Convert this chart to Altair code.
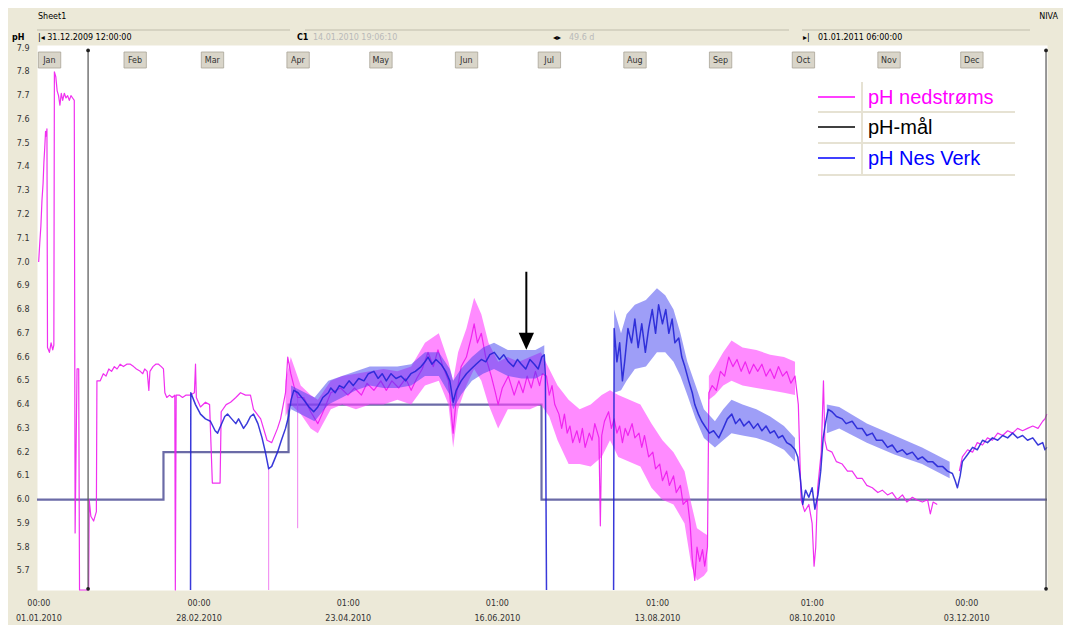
import altair as alt
import pandas as pd

# ------------------------------------------------------------------ data
X_START = "2009-12-31 12:00"
X_END = "2011-01-01 06:00"
DAY0 = "2010-01-01 00:00"

Y_TICKS = [5.7, 5.8, 5.9, 6.0, 6.1, 6.2, 6.3, 6.4, 6.5, 6.6, 6.7, 6.8,
           6.9, 7.0, 7.1, 7.2, 7.3, 7.4, 7.5, 7.6, 7.7, 7.8, 7.9]
X_TICKS = ["2010-01-01 00:00", "2010-02-28 00:00", "2010-04-23 01:00",
           "2010-06-16 01:00", "2010-08-13 01:00", "2010-10-08 01:00",
           "2010-12-03 00:00"]
MONTHS = ["Jan", "Feb", "Mar", "Apr", "May", "Jun",
          "Jul", "Aug", "Sep", "Oct", "Nov", "Dec"]
LEGEND_NAMES = ["pH nedstrøms", "pH-mål", "pH Nes Verk"]
LEGEND_COLORS = ["#ff00ff", "#000000", "#0000ff"]

# pH-mål (step line): day since 01.01.2010, pH
MAAL_DAYS = [-0.5, 45.3, 90.6, 182.2, 365.25]
MAAL_PH = [6.0, 6.2, 6.4, 6.0, 6.0]

# pH nedstrøms (day, pH)
NED_1 = [(0.1, 7.00), (0.5, 7.08), (0.9, 7.15), (1.3, 7.26), (1.7, 7.33), (2.0, 7.42),
         (2.3, 7.48), (2.6, 7.55), (2.9, 7.53), (3.1, 7.56), (3.3, 6.64), (4.0, 6.62),
         (4.6, 6.66), (5.2, 6.63), (5.6, 6.65), (5.8, 7.80), (6.3, 7.78), (6.8, 7.72),
         (7.3, 7.70), (7.8, 7.66), (8.3, 7.71), (8.8, 7.68), (9.4, 7.71), (10.0, 7.69),
         (10.6, 7.70), (11.2, 7.68), (11.8, 7.70), (12.4, 7.69), (13.0, 7.68),
         (13.3, 5.86), (14.0, 6.55), (14.6, 6.55), (14.9, 5.62), (18.2, 5.62),
         (18.4, 6.00), (19.0, 5.93), (20.0, 5.91), (21.0, 5.95), (21.2, 6.50),
         (22.4, 6.50), (23.5, 6.53), (24.5, 6.52), (25.5, 6.55), (26.5, 6.54), (27.5, 6.56),
         (28.5, 6.55), (29.6, 6.57), (30.8, 6.56), (32.0, 6.57), (33.3, 6.57), (34.5, 6.56),
         (35.5, 6.55), (36.9, 6.54), (37.8, 6.53), (38.5, 6.55), (39.4, 6.54), (40.0, 6.46),
         (40.4, 6.54), (41.5, 6.56), (42.5, 6.57), (43.5, 6.57), (44.5, 6.56), (45.3, 6.55),
         (45.8, 6.45), (46.5, 6.43), (47.5, 6.44), (48.5, 6.43), (49.4, 6.44), (49.6, 5.62),
         (49.9, 6.44), (51.0, 6.44), (52.2, 6.43), (53.5, 6.44), (55.0, 6.44), (56.5, 6.45),
         (56.9, 6.57), (57.2, 6.43), (58.7, 6.39), (60.5, 6.41), (62.0, 6.40), (63.0, 6.07),
         (64.9, 6.07), (65.8, 6.07), (66.2, 6.37), (68.0, 6.40), (69.6, 6.41), (71.5, 6.43),
         (73.2, 6.45), (75.0, 6.44), (76.8, 6.44), (77.9, 6.38), (80.5, 6.34), (82.8, 6.25),
         (84.5, 6.24), (86.6, 6.30), (87.7, 6.34), (89.5, 6.45), (90.3, 6.60), (91.4, 6.53),
         (92.5, 6.48), (93.9, 6.43), (96.1, 6.43), (98.6, 6.37), (101.2, 6.32), (103.5, 6.38),
         (105.9, 6.45), (109.5, 6.47), (112.1, 6.44), (114.5, 6.47), (117.0, 6.44),
         (119.0, 6.49), (121.5, 6.46), (124.0, 6.50), (126.0, 6.46), (128.0, 6.50),
         (130.5, 6.47), (133.0, 6.51), (135.0, 6.46), (137.0, 6.51), (139.0, 6.55),
         (141.1, 6.62), (143.0, 6.56), (144.7, 6.63), (146.5, 6.56), (148.5, 6.50),
         (150.2, 6.28), (151.5, 6.45), (153.1, 6.56), (155.0, 6.60), (156.7, 6.68),
         (157.8, 6.74), (159.0, 6.66), (160.4, 6.70), (162.0, 6.60), (164.0, 6.52),
         (165.5, 6.45), (166.5, 6.40), (168.0, 6.47), (170.2, 6.52), (172.3, 6.44),
         (174.0, 6.50), (175.5, 6.45), (177.0, 6.52), (178.5, 6.47), (180.0, 6.54),
         (181.5, 6.48), (182.5, 6.53), (184.0, 6.52), (185.0, 6.44), (186.0, 6.48),
         (187.0, 6.40), (188.5, 6.36), (189.5, 6.30), (190.5, 6.36), (191.5, 6.28),
         (192.5, 6.31), (193.5, 6.24), (195.0, 6.29), (196.0, 6.24), (197.0, 6.30),
         (198.0, 6.22), (199.5, 6.28), (200.5, 6.25), (201.5, 6.32), (203.0, 6.26),
         (203.5, 5.89), (204.0, 6.27), (205.0, 6.33), (206.5, 6.37), (207.5, 6.30),
         (208.5, 6.34), (209.5, 6.28), (210.5, 6.31), (211.5, 6.24), (212.5, 6.30),
         (213.5, 6.27), (215.0, 6.32), (216.0, 6.26), (217.5, 6.28), (218.5, 6.22),
         (219.5, 6.27), (221.0, 6.18), (222.5, 6.20), (223.5, 6.13), (225.0, 6.15),
         (226.0, 6.08), (227.5, 6.12), (228.5, 6.06), (230.0, 6.10), (231.0, 6.03),
         (232.5, 6.06), (233.5, 5.98), (235.0, 6.00), (236.0, 5.90), (236.8, 5.75),
         (237.7, 5.66), (238.5, 5.80), (239.5, 5.74), (240.5, 5.79), (241.3, 5.72),
         (242.3, 5.80), (242.8, 6.45), (244.0, 6.48), (245.5, 6.46), (247.0, 6.54),
         (248.5, 6.52), (250.0, 6.60), (251.5, 6.56), (253.0, 6.59), (254.5, 6.54),
         (256.0, 6.58), (257.5, 6.53), (259.0, 6.57), (260.5, 6.54), (262.0, 6.57),
         (263.5, 6.52), (265.0, 6.55), (266.5, 6.51), (268.0, 6.56), (269.5, 6.52),
         (271.0, 6.54), (272.5, 6.49), (274.0, 6.52), (275.2, 6.40),
         (276.2, 6.00), (277.5, 5.95), (279.0, 5.98), (280.2, 5.90), (280.9, 5.72),
         (281.5, 5.80), (282.2, 6.05), (283.5, 6.20), (284.3, 6.50), (284.8, 6.25),
         (285.6, 6.21), (287.4, 6.20), (289.0, 6.16), (291.1, 6.15), (293.0, 6.12),
         (294.7, 6.12), (296.5, 6.09), (298.3, 6.09), (300.0, 6.06), (302.0, 6.05),
         (304.0, 6.03), (305.6, 6.04), (307.5, 6.02), (309.2, 6.03), (311.0, 6.00),
         (312.9, 6.02), (314.5, 5.99), (316.5, 6.01), (318.0, 6.00), (320.1, 5.99),
         (322.0, 6.00), (323.0, 5.94), (324.0, 5.99), (325.5, 5.98)]
NED_2 = [(333.5, 6.12), (334.6, 6.18), (336.5, 6.21), (338.3, 6.20), (340.0, 6.24),
         (341.9, 6.23), (343.7, 6.26), (345.5, 6.25), (347.4, 6.28), (349.2, 6.27),
         (351.0, 6.29), (352.8, 6.28), (354.6, 6.30), (356.4, 6.29), (358.2, 6.30),
         (360.1, 6.31), (362.0, 6.30), (363.7, 6.33), (364.5, 6.34), (365.2, 6.36)]
# noisy envelope of pH nedstrøms (day, low, high)
NED_BAND_1 = [(89.5, 6.35, 6.50), (91.4, 6.40, 6.60), (95.0, 6.36, 6.48), (98.6, 6.30, 6.44),
              (101.2, 6.28, 6.42), (105.9, 6.38, 6.50), (110.0, 6.40, 6.52), (115.0, 6.38, 6.53),
              (120.0, 6.40, 6.54), (125.0, 6.40, 6.55), (130.0, 6.42, 6.54), (135.0, 6.40, 6.56),
              (140.0, 6.48, 6.66), (145.0, 6.50, 6.70), (148.5, 6.40, 6.58), (150.2, 6.22, 6.50),
              (152.0, 6.38, 6.62), (155.0, 6.48, 6.72), (157.8, 6.55, 6.85), (160.4, 6.50, 6.78),
              (163.0, 6.40, 6.66), (166.5, 6.30, 6.58), (170.0, 6.38, 6.60), (174.0, 6.38, 6.58),
              (178.0, 6.38, 6.60), (182.0, 6.40, 6.62), (185.0, 6.35, 6.55), (188.0, 6.25, 6.48),
              (192.0, 6.15, 6.42), (196.0, 6.15, 6.38), (200.0, 6.14, 6.40), (204.0, 6.18, 6.44),
              (207.0, 6.25, 6.46), (210.0, 6.18, 6.44), (214.0, 6.16, 6.42), (218.0, 6.14, 6.40),
              (222.0, 6.05, 6.32), (226.0, 6.00, 6.25), (230.0, 5.98, 6.20), (234.0, 5.90, 6.12),
              (236.5, 5.72, 5.98), (238.5, 5.66, 5.88), (241.0, 5.68, 5.86), (242.3, 5.70, 5.85)]
NED_BAND_2 = [(242.8, 6.42, 6.52), (245.0, 6.44, 6.56), (248.0, 6.48, 6.62), (251.0, 6.50, 6.67),
              (255.0, 6.48, 6.64), (260.0, 6.47, 6.63), (265.0, 6.46, 6.61), (270.0, 6.45, 6.60),
              (274.0, 6.44, 6.58)]

# pH Nes Verk (day, pH)
NES_1 = [(55.1, 5.62), (55.2, 6.45), (56.9, 6.40), (58.7, 6.36), (60.5, 6.34), (62.3, 6.33),
         (64.0, 6.29), (64.9, 6.28), (66.0, 6.31), (67.5, 6.35), (68.5, 6.36), (70.0, 6.34),
         (71.5, 6.32), (72.5, 6.34), (74.3, 6.30), (75.5, 6.32), (76.8, 6.35), (77.9, 6.36),
         (79.5, 6.32), (81.0, 6.26), (82.2, 6.20), (83.4, 6.13), (84.5, 6.14), (85.9, 6.18),
         (86.6, 6.20), (88.0, 6.25), (89.5, 6.30), (90.6, 6.35), (91.5, 6.42), (92.5, 6.46),
         (94.0, 6.45), (96.1, 6.42), (98.0, 6.39), (99.7, 6.37), (101.2, 6.39), (103.0, 6.43),
         (105.0, 6.45), (105.9, 6.47), (107.5, 6.45), (109.0, 6.48), (110.6, 6.47), (112.5, 6.50),
         (114.0, 6.48), (116.0, 6.51), (117.9, 6.50), (119.5, 6.53), (121.5, 6.54), (123.0, 6.51),
         (124.5, 6.53), (126.0, 6.50), (127.7, 6.53), (129.5, 6.51), (131.3, 6.52), (133.0, 6.50),
         (134.9, 6.53), (136.5, 6.54), (138.6, 6.56), (140.0, 6.58), (141.1, 6.60), (142.5, 6.57),
         (144.0, 6.59), (145.8, 6.57), (147.5, 6.54), (149.0, 6.50), (150.2, 6.41), (151.3, 6.46),
         (153.1, 6.50), (155.0, 6.53), (156.7, 6.55), (158.5, 6.57), (160.4, 6.59), (162.0, 6.58),
         (163.5, 6.61), (165.1, 6.62), (167.0, 6.59), (168.5, 6.61), (170.2, 6.58), (172.0, 6.56),
         (173.5, 6.59), (174.9, 6.57), (176.5, 6.55), (178.0, 6.59), (179.6, 6.57), (181.0, 6.55),
         (182.3, 6.60), (183.2, 6.61), (183.6, 6.52), (184.0, 5.62)]
NES_2 = [(208.3, 5.62), (208.5, 6.72), (209.5, 6.58), (210.5, 6.66), (211.5, 6.50), (212.3, 6.58),
         (213.5, 6.72), (214.8, 6.66), (216.0, 6.76), (217.2, 6.64), (218.5, 6.74), (219.8, 6.62),
         (221.0, 6.72), (222.3, 6.80), (223.5, 6.70), (224.6, 6.82), (226.0, 6.74), (227.2, 6.80),
         (228.3, 6.70), (229.5, 6.76), (230.5, 6.66), (231.9, 6.68), (233.0, 6.60), (234.1, 6.56),
         (235.5, 6.50), (236.8, 6.45), (237.7, 6.40), (239.0, 6.36), (240.2, 6.33), (241.3, 6.31),
         (243.0, 6.28), (244.5, 6.29), (246.4, 6.26), (248.0, 6.30), (249.5, 6.34), (251.1, 6.36),
         (252.5, 6.32), (254.0, 6.34), (255.5, 6.31), (257.3, 6.33), (259.0, 6.30), (260.5, 6.32),
         (262.0, 6.29), (263.5, 6.31), (265.0, 6.28), (266.5, 6.29), (268.0, 6.26), (269.5, 6.27),
         (271.0, 6.24), (272.5, 6.23), (274.0, 6.21), (275.0, 6.18), (276.0, 6.08), (276.8, 5.98),
         (277.8, 6.04), (279.0, 6.01), (280.2, 6.05), (281.2, 5.96), (282.3, 6.02), (283.3, 6.12),
         (284.2, 6.26), (285.0, 6.32), (286.0, 6.38), (287.4, 6.37), (289.0, 6.35), (291.1, 6.34),
         (292.5, 6.32), (294.7, 6.33), (296.5, 6.30), (298.3, 6.30), (300.0, 6.27), (302.0, 6.28),
         (303.5, 6.25), (305.6, 6.25), (307.5, 6.22), (309.2, 6.23), (311.0, 6.20), (312.9, 6.21),
         (314.5, 6.19), (316.5, 6.20), (318.5, 6.17), (320.1, 6.18), (322.0, 6.16), (323.8, 6.16),
         (325.6, 6.14), (327.4, 6.14), (329.2, 6.12), (331.0, 6.11), (332.0, 6.08), (332.8, 6.05),
         (333.8, 6.10), (334.6, 6.16), (336.5, 6.19), (338.3, 6.22), (340.0, 6.21), (341.9, 6.25),
         (343.7, 6.24), (345.5, 6.26), (347.4, 6.25), (349.2, 6.27), (351.0, 6.26), (352.8, 6.28),
         (354.6, 6.26), (356.4, 6.27), (358.2, 6.25), (360.1, 6.26), (362.0, 6.23), (363.7, 6.24),
         (364.5, 6.21), (365.2, 6.22)]
NES_BAND_1 = [(91.5, 6.38, 6.48), (100.0, 6.33, 6.43), (105.0, 6.40, 6.50), (110.0, 6.43, 6.52),
              (115.0, 6.46, 6.54), (120.0, 6.48, 6.56), (125.0, 6.47, 6.56), (130.0, 6.47, 6.56),
              (135.0, 6.48, 6.57), (140.0, 6.52, 6.62), (145.0, 6.52, 6.62), (149.0, 6.44, 6.55),
              (150.2, 6.38, 6.50), (153.0, 6.44, 6.55), (157.0, 6.50, 6.60), (161.0, 6.53, 6.64),
              (165.0, 6.55, 6.66), (170.0, 6.52, 6.63), (175.0, 6.51, 6.63), (180.0, 6.51, 6.63),
              (183.2, 6.53, 6.65)]
NES_BAND_2 = [(208.5, 6.45, 6.80), (211.0, 6.46, 6.70), (213.0, 6.50, 6.78), (216.0, 6.55, 6.82),
              (220.0, 6.56, 6.84), (224.0, 6.62, 6.89), (227.0, 6.62, 6.86), (230.0, 6.58, 6.80),
              (232.5, 6.52, 6.70), (235.0, 6.44, 6.58), (238.0, 6.34, 6.48), (241.0, 6.26, 6.38),
              (245.0, 6.22, 6.33), (248.0, 6.25, 6.38), (251.0, 6.28, 6.42), (255.0, 6.27, 6.40),
              (260.0, 6.26, 6.38), (265.0, 6.24, 6.35), (270.0, 6.21, 6.31), (274.0, 6.16, 6.26)]
NES_BAND_3 = [(285.5, 6.28, 6.40), (290.0, 6.30, 6.39), (300.0, 6.24, 6.32), (310.0, 6.19, 6.27),
              (320.0, 6.15, 6.22), (330.0, 6.09, 6.16)]

# thin isolated spikes of pH nedstrøms (day, low, high)
NED_SPIKES = [(93.9, 5.88, 6.45), (83.4, 5.62, 6.13)]

CURSOR_DAY = 18.0
END_DAY = 364.9
CURSOR_TOP, CURSOR_BOTTOM = 7.89, 5.625
ARROW_DAY, ARROW_TOP, ARROW_BOTTOM, ARROW_HEAD = 176.7, 6.959, 6.69, 6.667

# ------------------------------------------------------------------ helpers
DAY_MS = 86400000


def ms(ts):
    return int(pd.Timestamp(ts).value // 10**6)


BASE_MS = ms(DAY0)


def tday(d):
    return BASE_MS + d * DAY_MS


def line_frame(segments):
    rows = []
    for i, seg in enumerate(segments):
        for d, v in seg:
            rows.append({"t": tday(d), "ph": v, "seg": i})
    return pd.DataFrame(rows)


def band_frame(segments):
    rows = []
    for i, seg in enumerate(segments):
        for d, lo, hi in seg:
            rows.append({"t": tday(d), "lo": lo, "hi": hi, "seg": i})
    return pd.DataFrame(rows)


FONT = "DejaVu Sans"
XS = alt.Scale(type="utc", domain=[ms(X_START), ms(X_END)])
YS = alt.Scale(domain=[5.62, 7.913], nice=False, zero=False)
XA = alt.Axis(values=[ms(t) for t in X_TICKS],
              labelExpr="[utcFormat(datum.value, '%H:%M'), utcFormat(datum.value, '%d.%m.%Y')]",
              labelFontSize=8, labelFont=FONT, labelColor="#333333", labelLineHeight=15,
              labelPadding=9, ticks=False, domain=False, grid=False, labelOverlap=False,
              labelBound=False, labelFlush=False, title="")
YA = alt.Axis(values=Y_TICKS, format=".1f", labelFontSize=8, labelFont=FONT,
              labelColor="#333333", labelPadding=8, ticks=False, domain=False,
              grid=False, title="")


def X(field="t:T"):
    return alt.X(field, scale=XS, axis=XA)


def Y(field):
    return alt.Y(field, scale=YS, axis=YA)


ONE = pd.DataFrame({"k": [0]})


def txt(text, x, y, size=8, color="#000000", align="left", weight="normal", font=FONT):
    return alt.Chart(ONE).mark_text(text=text, align=align, baseline="middle",
                                     fontSize=size, color=color, fontWeight=weight,
                                     font=font).encode(x=alt.value(x), y=alt.value(y))


def hrule(x1, x2, y, color, w=1.0):
    return alt.Chart(ONE).mark_rule(color=color, strokeWidth=w).encode(
        x=alt.value(x1), x2=alt.value(x2), y=alt.value(y))


def vrule(x, y1, y2, color, w=1.0):
    return alt.Chart(ONE).mark_rule(color=color, strokeWidth=w).encode(
        x=alt.value(x), y=alt.value(y1), y2=alt.value(y2))


# ------------------------------------------------------------------ frames
maal_df = pd.DataFrame({"t": [tday(d) for d in MAAL_DAYS], "ph": MAAL_PH})
ned_df = line_frame([NED_1, NED_2])
nes_df = line_frame([NES_1, NES_2])
ned_band = band_frame([NED_BAND_1, NED_BAND_2])
nes_band = band_frame([NES_BAND_1, NES_BAND_2, NES_BAND_3])
spike_df = band_frame([NED_SPIKES])
month_df = pd.DataFrame({"m": MONTHS,
                         "t": [ms(pd.Timestamp(2010, i + 1, 1)) for i in range(12)]})
cursor_df = pd.DataFrame({"t": [tday(CURSOR_DAY), tday(END_DAY)],
                          "top": [CURSOR_TOP, CURSOR_TOP], "bot": [CURSOR_BOTTOM, CURSOR_BOTTOM]})
arrow_df = pd.DataFrame({"t": [tday(ARROW_DAY)], "top": [ARROW_TOP],
                         "bot": [ARROW_BOTTOM], "head": [ARROW_HEAD]})

MAG = "#ee1aee"
MAG_BAND = "#ff44ff"
BLU = "#2424d6"
BLU_BAND = "#3d3df0"
MAAL = "#5b5b9d"

layers = []

# month boxes
layers.append(alt.Chart(month_df).transform_calculate(t2="datum.t + 8.1 * 86400000")
              .mark_rect(fill="#d9d5c9", stroke="#a9a598", strokeWidth=0.8)
              .encode(x=X(), x2="t2:T", y=alt.value(7), y2=alt.value(23)))
layers.append(alt.Chart(month_df).mark_text(align="center", baseline="middle", dx=11,
                                            fontSize=8, font=FONT, color="#333333")
              .encode(x=X(), y=alt.value(15.5), text="m:N"))

# target line
layers.append(alt.Chart(maal_df).mark_line(interpolate="step-after", color=MAAL,
                                           strokeWidth=2.2, opacity=0.9)
              .encode(x=X(), y=Y("ph:Q")))

# pH nedstrøms
layers.append(alt.Chart(spike_df).mark_rule(color="#f080f0", strokeWidth=1)
              .encode(x=X(), y=Y("lo:Q"), y2="hi:Q"))
layers.append(alt.Chart(ned_band).mark_area(color=MAG_BAND, opacity=0.62)
              .encode(x=X(), y=Y("lo:Q"), y2="hi:Q", detail="seg:N"))
layers.append(alt.Chart(ned_df).mark_line(color=MAG, strokeWidth=1.2, strokeJoin="round",
                                          opacity=0.9)
              .encode(x=X(), y=Y("ph:Q"), detail="seg:N"))

# pH Nes Verk
layers.append(alt.Chart(nes_band).mark_area(color=BLU_BAND, opacity=0.5)
              .encode(x=X(), y=Y("lo:Q"), y2="hi:Q", detail="seg:N"))
layers.append(alt.Chart(nes_df).mark_line(color=BLU, strokeWidth=1.5, strokeJoin="round",
                                          opacity=0.9)
              .encode(x=X(), y=Y("ph:Q"), detail="seg:N"))

# cursor lines with end dots
layers.append(alt.Chart(cursor_df).mark_rule(color="#606060", strokeWidth=1.3)
              .encode(x=X(), y=Y("top:Q"), y2="bot:Q"))
layers.append(alt.Chart(cursor_df).mark_point(filled=True, color="#202020", size=14, opacity=1)
              .encode(x=X(), y=Y("top:Q")))
layers.append(alt.Chart(cursor_df).mark_point(filled=True, color="#202020", size=14, opacity=1)
              .encode(x=X(), y=Y("bot:Q")))

# arrow annotation
layers.append(alt.Chart(arrow_df).mark_rule(color="#000000", strokeWidth=2)
              .encode(x=X(), y=Y("top:Q"), y2="bot:Q"))
layers.append(alt.Chart(arrow_df).mark_point(shape="M -0.9 -1 L 0.9 -1 L 0 1 Z", filled=True,
                                             color="#000000", size=289, opacity=1)
              .encode(x=X(), y=Y("head:Q")))

# header
layers.append(txt("Sheet1", 1, -28))
layers.append(txt("NIVA", 1021, -28, align="right"))
layers.append(hrule(0, 253, -15, "#cfcbbb", 1.5))
layers.append(hrule(268, 752, -15, "#cfcbbb", 1.5))
layers.append(hrule(765, 993, -15, "#cfcbbb", 1.5))
layers.append(txt("pH", -25, -7, weight="bold"))
layers.append(txt("|◂  31.12.2009 12:00:00", 1, -7))
layers.append(txt("C1", 260, -7, weight="bold"))
layers.append(txt("14.01.2010 19:06:10", 276, -7, color="#b9b9b9"))
layers.append(txt("◂▸", 516, -7))
layers.append(txt("49.6 d", 532, -7, color="#b9b9b9"))
layers.append(txt("▸|", 766, -7))
layers.append(txt("01.01.2011 06:00:00", 781, -7))

# legend (table style)
LX0, LX1, LXSEP = 781, 978, 825
ROW_Y = [52, 82, 113]
SEP_Y = [67, 98, 130]
for yy in SEP_Y:
    layers.append(hrule(LX0, LX1, yy, "#e6e2d3", 2))
layers.append(vrule(LXSEP, 37, 130, "#e6e2d3", 2))
for name, col, yy in zip(LEGEND_NAMES, LEGEND_COLORS, ROW_Y):
    layers.append(hrule(LX0, 818, yy, col, 1.5))
    layers.append(txt(name, 831, yy + 1, size=20, color=col, font="Liberation Sans"))

chart = alt.layer(*layers).properties(
    width=1010, height=545,
    autosize=alt.AutoSizeParams(type="none"),
    padding={"left": 29, "top": 37, "right": 16, "bottom": 35},
).configure(background="#ECE9D8").configure_view(fill="white", stroke="transparent")

chart.save("out.html", embed_options={"renderer": "svg", "actions": False})
